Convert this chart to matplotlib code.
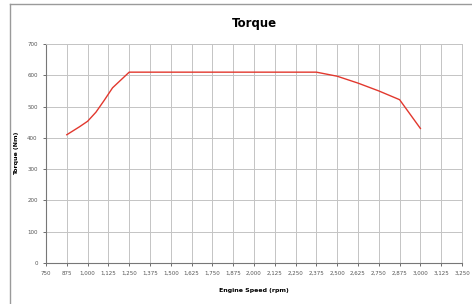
import matplotlib
matplotlib.use('Agg')
import matplotlib.pyplot as plt
from matplotlib.lines import Line2D
from matplotlib.ticker import FuncFormatter

# DATA
rpm = [875, 950, 1000, 1050, 1100, 1150, 1200, 1250, 2375, 2500, 2625, 2750, 2875, 3000]
torque = [410, 435, 453, 482, 520, 560, 585, 610, 610, 597, 575, 550, 522, 430]

x_ticks = list(range(750, 3251, 125))
y_ticks = list(range(0, 701, 100))

fig = plt.figure(figsize=(4.72, 3.04), dpi=100)
ax = fig.add_axes([46 / 472, 1 - 263 / 304, 416 / 472, 219 / 304])

ax.plot(rpm, torque, color='#e2382e', linewidth=1.0)

ax.set_xlim(750, 3250)
ax.set_ylim(0, 700)
ax.set_xticks(x_ticks)
ax.set_yticks(y_ticks)
ax.xaxis.set_major_formatter(FuncFormatter(lambda v, p: f'{int(v):,}'))
ax.tick_params(labelsize=4, colors='#555555', length=2.5, width=0.6)
ax.tick_params(axis='x', pad=3)
ax.grid(True, color='#c4c4c4', linewidth=0.7)
ax.set_axisbelow(True)
for side in ['top', 'right']:
    ax.spines[side].set_color('#c4c4c4')
    ax.spines[side].set_linewidth(0.7)
for side in ['left', 'bottom']:
    ax.spines[side].set_color('#777777')
    ax.spines[side].set_linewidth(0.8)

ax.set_title('Torque', fontsize=8.5, fontweight='bold', pad=12)
ax.set_xlabel('Engine Speed (rpm)', fontsize=4.5, fontweight='bold', labelpad=9)
ax.set_ylabel('Torque (Nm)', fontsize=4.5, fontweight='bold', labelpad=6)

# chart-area frame (Excel style)
fig.add_artist(Line2D([10 / 472, 1], [1 - 4 / 304, 1 - 4 / 304], color='#9a9a9a', linewidth=1.0))
fig.add_artist(Line2D([10 / 472, 10 / 472], [0, 1 - 4 / 304], color='#9a9a9a', linewidth=1.0))

fig.savefig('out.png', dpi=100)
